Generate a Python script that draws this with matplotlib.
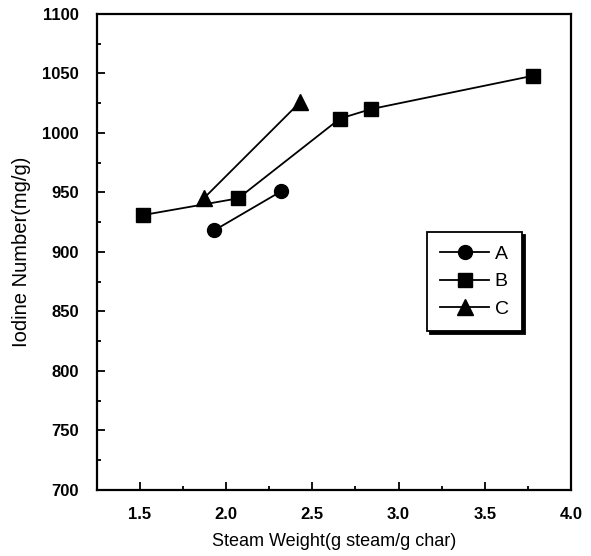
import numpy as np
import matplotlib
matplotlib.use('Agg')
import matplotlib.pyplot as plt
from matplotlib.ticker import MultipleLocator

plt.rcParams['font.family'] = ['Liberation Sans', 'DejaVu Sans']

# data
a_x = [1.93, 2.32]
a_y = [918, 951]
b_x = [1.52, 2.07, 2.66, 2.84, 3.78]
b_y = [931, 945, 1012, 1020, 1048]
c_x = [1.87, 2.43]
c_y = [945, 1026]
labels = ['A', 'B', 'C']

fig = plt.figure(figsize=(5.91, 5.56), dpi=100)
ax = fig.add_axes([0.164, 0.119, 0.802, 0.856])

ax.plot(a_x, a_y, '-', color='black', lw=1.3, marker='o', ms=10, label=labels[0])
ax.plot(b_x, b_y, '-', color='black', lw=1.3, marker='s', ms=10, label=labels[1])
ax.plot(c_x, c_y, '-', color='black', lw=1.3, marker='^', ms=11, label=labels[2])

ax.set_xlim(1.25, 4.0)
ax.set_ylim(700, 1100)
ax.xaxis.set_major_locator(MultipleLocator(0.5))
ax.xaxis.set_minor_locator(MultipleLocator(0.25))
ax.yaxis.set_major_locator(MultipleLocator(50))
ax.yaxis.set_minor_locator(MultipleLocator(25))
ax.tick_params(which='both', direction='in', top=False, right=False, width=1.3)
ax.tick_params(which='major', length=6, labelsize=12)
ax.tick_params(axis='x', which='major', pad=12)
ax.tick_params(axis='y', which='major', pad=13)
ax.tick_params(which='minor', length=3)
for lab in ax.get_xticklabels() + ax.get_yticklabels():
    lab.set_fontweight('bold')
for s in ax.spines.values():
    s.set_linewidth(1.6)

ax.set_xlabel('Steam Weight(g steam/g char)', fontsize=13, labelpad=8)
ax.set_ylabel('Iodine Number(mg/g)', fontsize=14.5, labelpad=8)

leg = ax.legend(loc='upper left', bbox_to_anchor=(0.696, 0.542), fontsize=14,
                frameon=True, fancybox=False,
                shadow={'color': 'black', 'alpha': 1},
                edgecolor='black', handlelength=2.5, handletextpad=0.3,
                borderpad=0.7, labelspacing=0.5, borderaxespad=0)
leg.get_frame().set_linewidth(1.3)
leg.get_frame().set_alpha(1)

plt.savefig('out.png', dpi=100)
